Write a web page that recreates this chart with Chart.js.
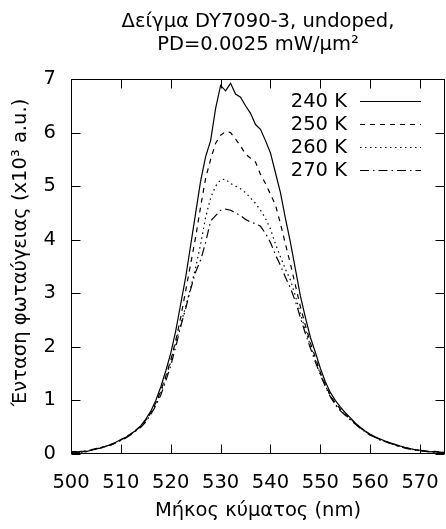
<!DOCTYPE html>
<html>
<head>
<meta charset="utf-8">
<script src="https://cdn.jsdelivr.net/npm/chart.js@4/dist/chart.umd.min.js"></script>
<style>
  html, body { margin: 0; padding: 0; background: #fff; }
</style>
</head>
<body>
<canvas id="spectra" width="446" height="529"></canvas>
<script>
// wavelength in nm, intensity in units of 10^3 a.u.
const wavelengths = [
  500, 501, 502, 503, 504, 505, 506, 507, 508, 509,
  510, 511, 512, 513, 514, 515, 516, 517, 518, 519,
  520, 521, 522, 523, 524, 525, 526, 527, 528, 529,
  530, 531, 532, 533, 534, 535, 536, 537, 538, 539,
  540, 541, 542, 543, 544, 545, 546, 547, 548, 549,
  550, 551, 552, 553, 554, 555, 556, 557, 558, 559,
  560, 561, 562, 563, 564, 565, 566, 567, 568, 569,
  570, 571, 572, 573, 574, 575
]
const temps = ['240 K', '250 K', '260 K', '270 K']
const pl240 = [
  0.04, 0.03, 0.05, 0.04, 0.07, 0.10, 0.11, 0.15, 0.17, 0.22,
  0.27, 0.31, 0.38, 0.44, 0.53, 0.65, 0.80, 1.00, 1.25, 1.55,
  1.88, 2.30, 2.80, 3.30, 3.90, 4.50, 5.10, 5.55, 5.85, 6.45,
  6.88, 6.78, 6.92, 6.72, 6.66, 6.50, 6.36, 6.15, 6.06, 5.85,
  5.62, 5.25, 4.88, 4.40, 3.95, 3.45, 2.95, 2.55, 2.18, 1.90,
  1.60, 1.35, 1.15, 1.00, 0.88, 0.77, 0.68, 0.58, 0.50, 0.43,
  0.37, 0.32, 0.28, 0.24, 0.21, 0.18, 0.15, 0.12, 0.10, 0.08,
  0.07, 0.06, 0.04, 0.05, 0.03, 0.03
]
const pl250 = [
  0.03, 0.05, 0.04, 0.06, 0.08, 0.09, 0.12, 0.14, 0.18, 0.21,
  0.26, 0.32, 0.37, 0.45, 0.52, 0.63, 0.77, 0.95, 1.18, 1.45,
  1.75, 2.12, 2.55, 3.05, 3.55, 4.05, 4.62, 5.15, 5.50, 5.80,
  5.95, 6.02, 6.00, 5.88, 5.75, 5.60, 5.52, 5.45, 5.22, 5.05,
  4.85, 4.65, 4.30, 3.92, 3.55, 3.15, 2.75, 2.40, 2.08, 1.80,
  1.52, 1.30, 1.10, 0.95, 0.84, 0.74, 0.66, 0.57, 0.49, 0.42,
  0.36, 0.31, 0.27, 0.24, 0.20, 0.17, 0.14, 0.12, 0.10, 0.08,
  0.06, 0.05, 0.05, 0.04, 0.04, 0.02
]
const pl260 = [
  0.05, 0.03, 0.04, 0.05, 0.07, 0.10, 0.12, 0.14, 0.17, 0.21,
  0.26, 0.31, 0.37, 0.44, 0.51, 0.62, 0.76, 0.93, 1.15, 1.42,
  1.72, 2.08, 2.42, 2.75, 3.10, 3.48, 3.92, 4.42, 4.78, 5.00,
  5.12, 5.13, 5.05, 5.00, 4.95, 4.88, 4.78, 4.68, 4.55, 4.40,
  4.20, 3.92, 3.68, 3.45, 3.25, 2.95, 2.62, 2.32, 2.02, 1.75,
  1.50, 1.28, 1.08, 0.93, 0.82, 0.73, 0.65, 0.56, 0.49, 0.42,
  0.36, 0.31, 0.27, 0.23, 0.20, 0.17, 0.14, 0.12, 0.09, 0.08,
  0.06, 0.05, 0.04, 0.04, 0.03, 0.03
]
const pl270 = [
  0.04, 0.04, 0.03, 0.06, 0.07, 0.09, 0.12, 0.15, 0.17, 0.21,
  0.25, 0.30, 0.36, 0.43, 0.50, 0.60, 0.74, 0.90, 1.10, 1.36,
  1.65, 2.00, 2.38, 2.72, 3.08, 3.40, 3.62, 3.95, 4.35, 4.45,
  4.55, 4.57, 4.55, 4.50, 4.45, 4.38, 4.33, 4.30, 4.25, 4.12,
  3.95, 3.72, 3.52, 3.30, 3.10, 2.85, 2.55, 2.25, 1.98, 1.72,
  1.48, 1.26, 1.07, 0.92, 0.81, 0.72, 0.64, 0.56, 0.48, 0.41,
  0.35, 0.31, 0.26, 0.23, 0.20, 0.16, 0.14, 0.11, 0.09, 0.07,
  0.06, 0.05, 0.04, 0.03, 0.03, 0.02
]
const xTicks = [500, 510, 520, 530, 540, 550, 560, 570]
const yTicks = [0, 1, 2, 3, 4, 5, 6, 7]

const FONT = 'DejaVu Sans'
const SIZE = 19.5
const dashes = [[], [5, 5], [1.5, 3.5], [9, 4, 1.5, 4]]

// gnuplot style box with ticks pointing inward on all four sides
const frameTicks = {
  id: 'frameTicks',
  afterDatasetsDraw (chart) {
    const { ctx, chartArea: a } = chart
    const x = chart.scales.x
    const y = chart.scales.y
    const len = 9
    const l = Math.round(a.left) + 0.5
    const r = Math.round(a.right) - 0.5
    const t = Math.round(a.top) + 0.5
    const b = Math.round(a.bottom) - 0.5
    ctx.save()
    ctx.strokeStyle = '#000'
    ctx.lineWidth = 1
    ctx.setLineDash([])
    ctx.beginPath()
    xTicks.forEach(v => {
      const px = Math.round(x.getPixelForValue(v)) + 0.5
      ctx.moveTo(px, b); ctx.lineTo(px, b - len)
      ctx.moveTo(px, t); ctx.lineTo(px, t + len)
    })
    yTicks.forEach(v => {
      const py = Math.round(y.getPixelForValue(v)) + 0.5
      ctx.moveTo(l, py); ctx.lineTo(l + len, py)
      ctx.moveTo(r, py); ctx.lineTo(r - len, py)
    })
    ctx.stroke()
    ctx.strokeRect(l, t, r - l, b - t)
    ctx.restore()
  }
}

// key in the top right corner (text, then line sample) and the rotated y label,
// which gnuplot puts a little above the middle of the axis
const keyBox = {
  id: 'keyBox',
  afterDatasetsDraw (chart) {
    const { ctx, chartArea: a } = chart
    ctx.save()
    ctx.font = SIZE + 'px "' + FONT + '"'
    ctx.fillStyle = '#000'
    ctx.textAlign = 'right'
    ctx.textBaseline = 'middle'
    chart.data.datasets.forEach((ds, i) => {
      const yy = Math.round(a.top + 22 + i * 23) + 0.5
      ctx.fillText(ds.label, a.right - 98, yy)
      ctx.strokeStyle = '#000'
      ctx.lineWidth = 1.2
      ctx.setLineDash(ds.borderDash)
      ctx.beginPath()
      ctx.moveTo(a.right - 85, yy)
      ctx.lineTo(a.right - 24, yy)
      ctx.stroke()
    })
    ctx.translate(21, (a.top + a.bottom) / 2 - 14)
    ctx.rotate(-Math.PI / 2)
    ctx.textAlign = 'center'
    ctx.fillText('Ένταση φωταύγειας (x10³ a.u.)', 0, 0)
    ctx.restore()
  }
}

function build () {
  const series = [pl240, pl250, pl260, pl270]
  const canvas = document.getElementById('spectra')
  return new Chart(canvas.getContext('2d'), {
    type: 'line',
    data: {
      datasets: series.map((vals, i) => ({
        label: temps[i],
        data: wavelengths.map((w, j) => ({ x: w, y: vals[j] })),
        borderColor: '#000',
        borderWidth: 1.2,
        borderDash: dashes[i],
        pointRadius: 0,
        tension: 0,
        fill: false
      }))
    },
    options: {
      responsive: false,
      animation: false,
      layout: { padding: { left: 0, right: 1, top: 0, bottom: 0 } },
      plugins: {
        legend: { display: false },
        tooltip: { enabled: false },
        title: {
          display: true,
          fullSize: false,
          text: ['Δείγμα DY7090-3, undoped,', 'PD=0.0025 mW/μm²'],
          color: '#000',
          font: { family: FONT, size: SIZE, weight: 'normal', lineHeight: 1.18 },
          padding: { top: 10, bottom: 23 }
        }
      },
      scales: {
        x: {
          type: 'linear',
          min: 500,
          max: 575,
          afterFit: s => {
            s.height = 75
            s.paddingLeft = 0
            s.paddingRight = 0
          },
          grid: { display: false, drawTicks: false },
          border: { display: false },
          ticks: {
            stepSize: 10,
            includeBounds: false,
            padding: 17,
            color: '#000',
            maxRotation: 0,
            font: { family: FONT, size: SIZE }
          },
          title: {
            display: true,
            text: 'Μήκος κύματος (nm)',
            color: '#000',
            font: { family: FONT, size: SIZE },
            padding: { top: 0, bottom: 6 }
          }
        },
        y: {
          min: 0,
          max: 7,
          afterFit: s => { s.width = 71 },
          grid: { display: false, drawTicks: false },
          border: { display: false },
          ticks: {
            stepSize: 1,
            padding: 15,
            color: '#000',
            font: { family: FONT, size: SIZE }
          }
        }
      }
    },
    plugins: [frameTicks, keyBox]
  })
}

build()
</script>
</body>
</html>
